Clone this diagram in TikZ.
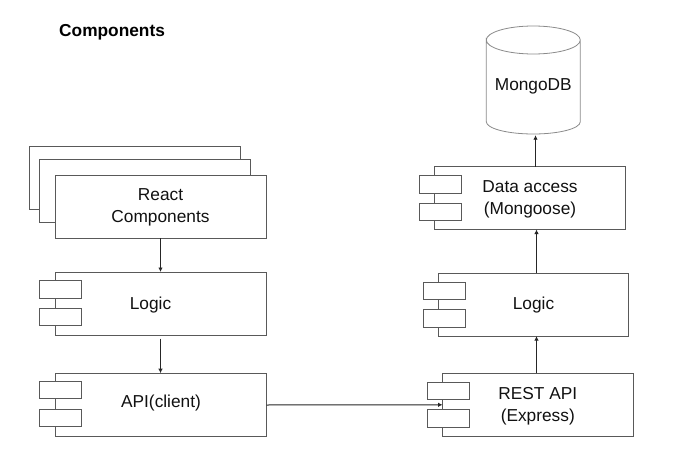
\documentclass[tikz,border=0pt]{standalone}
\usepackage{fontspec}
\setmainfont{Liberation Sans}
\usetikzlibrary{arrows.meta}
\definecolor{edge}{HTML}{595959}
\definecolor{ink}{HTML}{111111}
\newcommand{\nudgetext}[2]{\raisebox{#1}[12.5pt][3.5pt]{#2}}
\tikzset{
  x=1pt,y=-1pt,
  boxn/.style={draw=edge,fill=white,line width=1pt,minimum width=211pt,minimum height=63pt,inner sep=0pt,outer sep=0pt,
     align=center,text=ink,font=\fontsize{17.3pt}{22pt}\selectfont},
  portn/.style={draw=edge,fill=white,line width=1pt,minimum width=42pt,minimum height=17.5pt,inner sep=0pt,outer sep=0pt},
  conn/.style={draw=black!85,line width=1pt,-{Latex[length=4.5pt,width=4.5pt]}},
  titlen/.style={text=black,font=\fontsize{17.3pt}{22pt}\selectfont\bfseries,inner sep=0pt,anchor=base west},
}
\begin{document}
\begin{tikzpicture}
\useasboundingbox (0,0) rectangle (678,460);
\fill[white] (0,0) rectangle (678,460);
\node[titlen] (title) at (59,37) {Components};
% stacked components
\node[boxn] (back1) at (134.5,177.5) {};
\node[boxn] (back2) at (144.5,191) {};
\node[boxn] (react) at (160.5,206.5) {\nudgetext{-.5pt}{React}\\\nudgetext{-.5pt}{Components}};
% left column
\node[boxn] (logicL) at (160.5,303.5) {\nudgetext{-1pt}{Logic\hspace{20pt}}};
\node[portn] (lp1) at (60.5,289.5) {};
\node[portn] (lp2) at (60.5,317) {};
\node[boxn] (api) at (161,404.7) {\nudgetext{2pt}{API(client)}};
\node[portn] (ap1) at (60.5,390) {};
\node[portn] (ap2) at (60.5,418) {};
% right column
\node[boxn,minimum width=190.5pt] (data) at (530,198) {\nudgetext{-1pt}{Data access}\\\nudgetext{-1pt}{(Mongoose)}};
\node[portn] (dp1) at (440.5,184.5) {};
\node[portn] (dp2) at (440.5,212) {};
\node[boxn,minimum width=190.5pt] (logicR) at (533.5,304.6) {Logic};
\node[portn] (rp1) at (444.3,291) {};
\node[portn] (rp2) at (444.3,318.5) {};
\node[boxn,minimum width=190.5pt] (rest) at (537.8,404.8) {\nudgetext{-1pt}{REST API}\\\nudgetext{-1pt}{(Express)}};
\node[portn] (xp1) at (448.4,391) {};
\node[portn] (xp2) at (448.4,418.5) {};
% database
\draw[draw=edge!70,line width=.8pt,fill=white]
  (486.3,40) .. controls (486.3,32.3) and (507.3,26) .. (533.3,26)
  .. controls (559.3,26) and (580.3,32.3) .. (580.3,40)
  .. controls (580.3,47.7) and (559.3,54) .. (533.3,54)
  .. controls (507.3,54) and (486.3,47.7) .. (486.3,40)
  -- (486.3,121.7)
  .. controls (486.3,128.5) and (507.3,134) .. (533.3,134)
  .. controls (559.3,134) and (580.3,128.5) .. (580.3,121.7)
  -- (580.3,40);
\node[text=ink,font=\fontsize{17.3pt}{22pt}\selectfont,inner sep=0pt,minimum width=94pt,minimum height=96pt] (mongo) at (533.3,86) {MongoDB};
% connectors
\draw[conn] (react.south) -- (logicL.north);
\draw[conn] ([yshift=-3.5pt]logicL.south) -- ([xshift=-.5pt]api.north);
\draw[conn] ([yshift=-.3pt]api.east) -- (rest.west);
\draw[conn] ([xshift=-1.3pt]rest.north) -- ([xshift=3pt]logicR.south);
\draw[conn] ([xshift=3pt]logicR.north) -- ([xshift=6.5pt]data.south);
\draw[conn] ([xshift=5.5pt]data.north) -- ([xshift=2.2pt,yshift=-1pt]mongo.south);
\end{tikzpicture}
\end{document}
